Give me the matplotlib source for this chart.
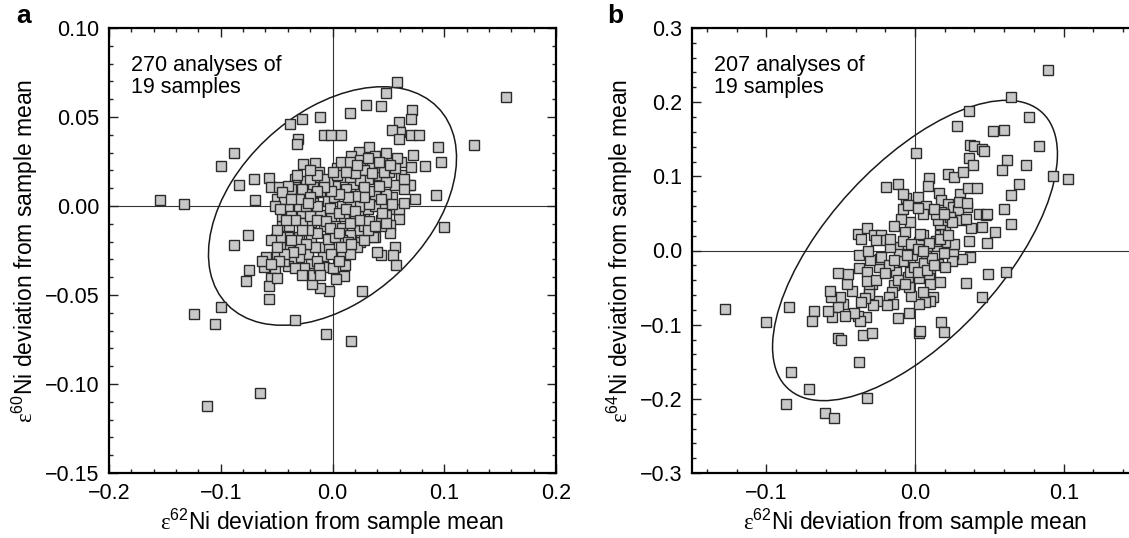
import numpy as np
import matplotlib
matplotlib.use("Agg")
import matplotlib.pyplot as plt
from matplotlib.patches import Ellipse
from matplotlib.ticker import MultipleLocator

plt.rcParams['font.family'] = ['Liberation Sans', 'DejaVu Sans']
plt.rcParams['mathtext.fontset'] = 'custom'
plt.rcParams['mathtext.rm'] = 'Liberation Serif'
plt.rcParams['mathtext.sf'] = 'Liberation Sans'

# panel a: e62Ni vs e60Ni deviations
a_points = [
    (-0.154, 0.0033), (-0.133, 0.0013), (-0.088, 0.030), (-0.0995, 0.0225), (-0.0835, 0.012),
    (-0.070, 0.0154), (-0.069, 0.0033), (-0.088, -0.022), (-0.076, -0.0163), (-0.0747, -0.036),
    (-0.077, -0.042), (-0.0998, -0.0567), (-0.124, -0.0606), (-0.105, -0.0665), (-0.0646, -0.105),
    (-0.1125, -0.1125), (-0.034, -0.064), (-0.0055, -0.0717), (0.017, -0.076), (0.026, -0.0477),
    (0.100, -0.0119), (0.093, 0.0062), (0.0975, 0.0246), (0.094, 0.033), (0.127, 0.034),
    (0.155, 0.061), (0.083, 0.0223), (0.074, 0.0042), (0.072, 0.0288), (0.0698, 0.022),
    (0.0685, 0.012), (0.0577, 0.0698), (0.048, 0.0635), (0.043, 0.056), (0.0297, 0.0567),
    (0.0153, 0.0523), (0.0708, 0.0538), (0.0698, 0.0487), (0.0593, 0.0471), (0.060, 0.0413),
    (0.0528, 0.0427), (0.0593, 0.0375), (0.0698, 0.040), (0.077, 0.040), (-0.0108, 0.050),
    (-0.027, 0.0487), (-0.0378, 0.0458), (-0.031, 0.0375), (-0.032, 0.0346), (-0.0075, 0.0398),
    (-0.001, 0.040), (0.0072, 0.0398), (0.033, 0.033), (0.0235, 0.0304), (0.017, 0.0279),
    (0.0447, 0.0279), (0.0528, 0.026), (0.061, 0.025), (-0.0264, 0.0235), (-0.0156, 0.024),
    (-0.0124, 0.0192), (0.004, 0.0215), (0.0137, 0.0212), (-0.0564, 0.016), (-0.055, 0.0106),
    (-0.048, 0.0106), (-0.0336, 0.015), (-0.034, 0.0106), (-0.0238, 0.014), (-0.050, 0.0042),
    (-0.031, 0.0048), (0.0528, 0.0048), (0.048, 0.0067), (0.038, 0.0062), (0.061, 0.0173),
    (0.056, 0.0119), (0.069, 0.0119), (0.0535, -0.0019), (0.0593, -0.0073), (0.0512, -0.0106),
    (0.043, -0.0077), (0.038, -0.0173), (0.056, -0.023), (0.054, -0.0273), (0.0567, -0.033),
    (0.0437, -0.0273), (0.0398, -0.026), (0.0365, -0.0173), (0.025, -0.020), (0.017, -0.0183),
    (0.0235, -0.0135), (0.0088, -0.027), (0.0114, -0.033), (0.0104, -0.0394), (0.003, -0.041),
    (-0.0033, -0.0475), (-0.0114, -0.0458), (-0.018, -0.0438), (-0.0075, -0.0342), (-0.0085, -0.0279),
    (-0.0108, -0.023), (-0.0033, -0.023), (-0.0042, -0.0183), (-0.0075, -0.0115), (-0.019, -0.0092),
    (-0.019, -0.0188), (-0.0222, -0.027), (-0.019, -0.0327), (-0.0212, -0.0375), (-0.030, -0.0288),
    (-0.0368, -0.0304), (-0.040, -0.0337), (-0.0385, -0.023), (-0.0466, -0.0227), (-0.0505, -0.0183),
    (-0.050, -0.027), (-0.0597, -0.0288), (-0.0613, -0.0342), (-0.0515, -0.0352), (-0.0548, -0.0404),
    (-0.0564, -0.0452), (-0.0564, -0.0525), (-0.045, -0.0115), (-0.045, -0.0058), (-0.0368, -0.0029),
    (-0.0385, -0.0115), (-0.030, -0.0173), (-0.027, -0.0038), (-0.0173, 0.0019), (-0.0108, 0.0077),
    (-0.0042, 0.0029), (0.0016, 0.0048), (0.0088, 0.0), (0.0104, -0.0058), (0.0202, -0.0077),
    (0.0284, -0.0058), (0.0284, 0.0019), (0.025, 0.0077), (0.033, 0.0087), (0.0186, 0.0125),
    (0.0104, 0.0163), (0.0316, 0.0154), (0.0414, 0.0173), (0.043, 0.0221), (0.035, 0.0231),
    (0.0284, 0.0202), (0.051, 0.0192), (0.048, 0.0135), (0.0414, 0.0115), (0.025, 0.0144),
    (0.0153, 0.0163), (0.0023, 0.0115), (-0.0042, 0.0135), (-0.0108, 0.0125), (-0.0173, 0.0106),
    (-0.0238, 0.0067), (-0.030, 0.0), (-0.0173, -0.0029), (-0.0108, -0.0048), (-0.001, -0.0067),
    (0.0023, -0.0115), (0.0088, -0.0125), (0.0153, -0.0096), (0.0447, 0.0), (0.0316, -0.0019),
    (0.0235, 0.0), (0.0153, 0.0019), (0.0284, -0.0115), (0.0153, -0.0163), (0.0088, -0.0192),
    (0.0023, -0.0173), (-0.014, -0.0154), (-0.0222, -0.0135), (-0.027, -0.0096), (-0.0336, -0.0077),
    (-0.040, 0.0), (-0.0434, 0.0038), (-0.0368, 0.0096), (-0.027, 0.0096), (-0.0205, 0.0154),
    (-0.0075, 0.0154), (0.004, 0.0173), (0.0072, 0.025), (0.0153, 0.025), (0.025, 0.026),
    (0.038, 0.0279), (0.048, 0.0298), (0.056, 0.0212), (0.046, 0.0192), (0.035, 0.0183),
    (0.0202, 0.0183), (0.012, 0.0096), (0.0284, 0.0106), (0.038, 0.0), (0.048, -0.0048),
    (0.0512, -0.0154), (0.043, -0.0115), (0.0218, -0.023), (0.0153, -0.027), (-0.014, -0.0308),
    (-0.0254, -0.0346), (-0.032, -0.0192), (-0.040, -0.0173), (-0.0466, -0.0173), (-0.0434, -0.0308),
    (-0.063, -0.0308), (-0.050, -0.0404), (-0.014, 0.0), (-0.0026, -0.001), (0.0055, -0.0038),
    (0.012, -0.0019), (0.0202, -0.0029), (0.025, -0.0077), (0.033, -0.0087), (0.033, 0.001),
    (0.043, 0.0038), (0.0284, 0.0048), (0.0202, 0.0058), (0.0137, 0.0048), (0.0055, 0.0067),
    (-0.001, 0.0087), (-0.0075, 0.0106), (-0.014, 0.0087), (-0.0205, 0.0048), (-0.0238, 0.0),
    (-0.0205, -0.0058), (-0.014, -0.0077), (-0.0059, -0.0087), (-0.0026, -0.0125), (0.0055, -0.0154),
    (0.0137, -0.0202), (0.0072, -0.023), (-0.001, -0.027), (-0.0156, -0.023), (-0.0238, -0.0212),
    (-0.0287, -0.024), (-0.0352, -0.0259), (-0.0434, -0.0269), (-0.048, -0.0308), (-0.0547, -0.0327),
    (-0.0336, -0.0346), (-0.027, -0.0385), (-0.0173, -0.0385), (-0.0124, -0.0346), (-0.0108, -0.0385),
    (0.0007, -0.0346), (0.0055, -0.0308), (0.017, -0.0212), (0.0284, -0.0192), (0.0316, -0.0135),
    (0.038, -0.0115), (0.048, -0.0096), (0.0593, -0.0019), (0.0642, 0.0096), (0.0642, 0.0154),
    (0.0577, 0.0269), (0.0512, 0.0231), (0.0414, 0.025), (0.0316, 0.0269), (0.0218, 0.0231),
    (0.012, 0.0192), (0.0007, 0.0192), (-0.014, 0.0173), (-0.0205, 0.0202), (-0.032, 0.0173),
    (-0.040, 0.0115), (-0.045, 0.0077), (-0.0515, 0.0), (-0.0466, -0.0019), (-0.0417, -0.0077),
    (-0.050, -0.0135), (-0.0548, -0.0192), (-0.050, -0.023), (-0.0368, -0.0192), (-0.027, -0.0135),
    (-0.030, 0.0038), (-0.0368, 0.0038), (-0.0222, 0.0019), (0.0447, -0.0038), (0.0528, 0.001),
    (0.0642, 0.0019),
]

# panel b: e62Ni vs e64Ni deviations
b_points = [
    (-0.1276, -0.0794), (-0.1004, -0.0964), (-0.0846, -0.0757), (-0.068, -0.0817), (-0.0695, -0.0955),
    (-0.0834, -0.1634), (-0.087, -0.2063), (-0.071, -0.187), (-0.0603, -0.2187), (-0.0547, -0.2261),
    (-0.0323, -0.1984), (-0.0379, -0.1509), (-0.0518, -0.1186), (-0.0498, -0.120), (-0.0352, -0.114),
    (-0.0287, -0.1117), (-0.0117, -0.0909), (-0.0039, -0.084), (0.0029, -0.1117), (0.0036, -0.1084),
    (0.0175, -0.0964), (0.0194, -0.1094), (0.045, -0.0623), (0.034, -0.0438), (0.0491, -0.0318),
    (0.0612, -0.0286), (0.0644, 0.0351), (0.060, 0.0558), (0.0644, 0.0743), (0.0697, 0.0891),
    (0.062, 0.1223), (0.0583, 0.1089), (0.0746, 0.1158), (0.0831, 0.1407), (0.0765, 0.1804),
    (0.0649, 0.2067), (0.0892, 0.2437), (0.0928, 0.1006), (0.1026, 0.096), (0.060, 0.1629),
    (0.0527, 0.1615), (0.0365, 0.1883), (0.0284, 0.1684), (0.0369, 0.1421), (0.0394, 0.1407),
    (0.0454, 0.1375), (0.0467, 0.1338), (0.0365, 0.1251), (0.0389, 0.1154), (0.0005, 0.1315),
    (0.0219, 0.1038), (0.0265, 0.0992), (0.0321, 0.1061), (0.0095, 0.0983), (0.009, 0.0868),
    (-0.0194, 0.0854), (-0.0117, 0.090), (-0.0061, 0.0706), (0.0022, 0.0715), (0.0073, 0.060),
    (0.0163, 0.0775), (0.0175, 0.0683), (0.0219, 0.0623), (0.0255, 0.0591), (0.0304, 0.0766),
    (0.0357, 0.0845), (0.0418, 0.0845), (0.035, 0.0591), (0.0292, 0.0545), (0.043, 0.0498),
    (0.0479, 0.0485), (0.0454, 0.0314), (0.0377, 0.030), (0.054, 0.0245), (0.0486, 0.0106),
    (0.0365, 0.0125), (0.0369, -0.0088), (0.0316, -0.0111), (0.0253, -0.0042), (0.0248, -0.0148),
    (0.026, 0.0083), (0.0199, 0.0115), (0.0151, 0.006), (0.0139, 0.0129), (0.0192, -0.0032),
    (0.0158, -0.018), (0.0102, -0.0309), (0.0097, -0.0365), (0.0102, -0.0457), (0.017, -0.0429),
    (0.0122, -0.0623), (0.0102, -0.0678), (0.0066, -0.0701), (0.0029, -0.0724), (0.0053, -0.0563),
    (-0.0027, -0.0609), (-0.0039, -0.0494), (-0.0044, -0.0355), (-0.0036, -0.0295), (-0.0007, -0.0217),
    (0.0058, -0.0171), (0.0073, -0.0032), (0.0083, 0.006), (0.0029, 0.0115), (0.0053, 0.0208),
    (0.0036, 0.0222), (0.017, 0.0208), (0.0199, 0.0282), (0.017, 0.036), (0.0158, 0.0406),
    (0.0224, 0.0406), (0.0236, 0.0452), (0.0309, 0.0406), (0.0175, 0.0521), (0.0139, 0.0498),
    (0.0053, 0.0498), (-0.0032, 0.0383), (-0.0068, 0.0245), (-0.0092, 0.0429), (-0.008, 0.0558),
    (-0.0141, 0.0337), (-0.0117, 0.0051), (-0.0109, -0.0042), (-0.0044, -0.0042), (-0.008, -0.0148),
    (-0.0129, -0.0286), (-0.0141, -0.0471), (-0.0153, -0.0563), (-0.0177, -0.0632), (-0.0146, -0.0715),
    (-0.019, -0.0738), (-0.0255, -0.0678), (-0.0282, -0.0738), (-0.0287, -0.0448), (-0.0311, -0.0517),
    (-0.0311, -0.0586), (-0.0335, -0.0641), (-0.036, -0.0701), (-0.033, -0.090), (-0.0384, -0.0886),
    (-0.0367, -0.0955), (-0.0408, -0.084), (-0.0481, -0.0724), (-0.0505, -0.0632), (-0.0518, -0.0761),
    (-0.0559, -0.090), (-0.0583, -0.0817), (-0.0566, -0.0632), (-0.0571, -0.054), (-0.0469, -0.0886),
    (-0.0425, -0.054), (-0.0457, -0.0448), (-0.0518, -0.0309), (-0.045, -0.0323), (-0.0379, -0.0231),
    (-0.0323, -0.0286), (-0.0323, -0.0411), (-0.0262, -0.0392), (-0.0243, -0.0217), (-0.0238, -0.0115),
    (-0.0306, -0.0125), (-0.0377, -0.0055), (-0.0318, -0.0009), (-0.0384, 0.0222), (-0.036, 0.0152),
    (-0.0323, 0.030), (-0.0275, 0.0208), (-0.0226, 0.0208), (-0.0194, 0.0138), (-0.0262, 0.0138),
    (-0.0226, -0.0088), (-0.0177, -0.0194), (-0.0202, -0.0309), (-0.0117, -0.0401), (-0.0068, -0.0448),
    (0.0024, -0.0365), (0.0017, -0.0286), (-0.0019, -0.0055), (-0.0141, -0.0125), (-0.017, 0.0051),
    (-0.0165, 0.0152), (-0.008, 0.0129), (-0.0056, -0.0055), (0.0114, -0.0102), (0.0078, -0.0263),
    (0.0131, -0.0194), (0.0199, -0.0217), (0.017, 0.0152), (0.0219, 0.0208), (0.0248, 0.0383),
    (0.0345, 0.0429), (0.0486, 0.0489), (-0.008, 0.0761), (-0.0044, 0.0614), (0.0017, 0.0568),
    (0.0126, 0.0558), (0.0194, 0.0498), (0.0296, 0.0651), (0.035, 0.0637), (0.0097, 0.0097),
    (-0.0024, 0.0083), (0.0017, 0.0014), (0.0053, -0.0009),
]

# covariance of the drawn confidence ellipses (sxx, syy, sxy)
a_ellipse = (0.01232, 0.00449, 0.0030)
b_ellipse = (0.00918, 0.0410, 0.01245)

a_text = "270 analyses of\n19 samples"
b_text = "207 analyses of\n19 samples"


def draw_ellipse(ax, cov):
    sxx, syy, sxy = cov
    vals, vecs = np.linalg.eigh(np.array([[sxx, sxy], [sxy, syy]]))
    angle = np.degrees(np.arctan2(vecs[1, 1], vecs[0, 1]))
    e = Ellipse((0, 0), 2 * np.sqrt(vals[1]), 2 * np.sqrt(vals[0]), angle=angle,
                fill=False, ec='#1a1a1a', lw=1.1, zorder=2)
    ax.add_patch(e)


def panel(ax, pts, cov, txt, xlim, ylim, xmaj, ymaj, ymin, yfmt, ylab):
    ax.axhline(0, color='#333333', lw=0.8, zorder=1)
    ax.axvline(0, color='#333333', lw=0.8, zorder=1)
    draw_ellipse(ax, cov)
    xs = [p[0] for p in pts]
    ys = [p[1] for p in pts]
    ax.plot(xs, ys, 's', ms=7.5, mfc='#c8c8c8', mec='#2b2b2b', mew=1.0,
            ls='none', zorder=3)
    ax.set_xlim(*xlim)
    ax.set_ylim(*ylim)
    ax.xaxis.set_major_locator(MultipleLocator(xmaj))
    ax.xaxis.set_minor_locator(MultipleLocator(0.02))
    ax.yaxis.set_major_locator(MultipleLocator(ymaj))
    ax.yaxis.set_minor_locator(MultipleLocator(ymin))
    ax.xaxis.set_major_formatter(lambda v, p: f"{v:.1f}".replace('-', '\u2212'))
    ax.yaxis.set_major_formatter(lambda v, p: yfmt.format(v).replace('-', '\u2212'))
    ax.tick_params(which='both', direction='in', top=True, right=True,
                   labelsize=15.5, width=1.0, color='#222222')
    ax.tick_params(which='major', length=6.5, pad=7)
    ax.tick_params(which='minor', length=3)
    for s in ax.spines.values():
        s.set_linewidth(1.6)
    ax.set_xlabel(r'$\mathrm{\varepsilon}^{\mathsf{62}}$Ni deviation from sample mean',
                  fontsize=16.5, labelpad=2)
    ax.set_ylabel(ylab, fontsize=16.5, labelpad=3)
    ax.text(0.049, 0.94, txt, transform=ax.transAxes, ha='left', va='top',
            fontsize=15.5, linespacing=1.05)


fig = plt.figure(figsize=(11.29, 5.38), dpi=100)
ax_a = fig.add_axes([109 / 1129, 65 / 538, 447 / 1129, 445 / 538])
ax_b = fig.add_axes([692 / 1129, 65 / 538, 446 / 1129, 445 / 538])

panel(ax_a, a_points, a_ellipse, a_text, (-0.2, 0.2), (-0.15, 0.10), 0.1, 0.05, 0.01,
      "{:.2f}", r'$\mathrm{\varepsilon}^{\mathsf{60}}$Ni deviation from sample mean')
panel(ax_b, b_points, b_ellipse, b_text, (-0.15, 0.15), (-0.3, 0.3), 0.1, 0.1, 0.02,
      "{:.1f}", r'$\mathrm{\varepsilon}^{\mathsf{64}}$Ni deviation from sample mean')

fig.text(16 / 1129, 1 - 4 / 538, 'a', fontsize=19, fontweight='bold', va='top', ha='left')
fig.text(607 / 1129, 1 - 4 / 538, 'b', fontsize=19, fontweight='bold', va='top', ha='left')

fig.savefig('out.png', dpi=100)
